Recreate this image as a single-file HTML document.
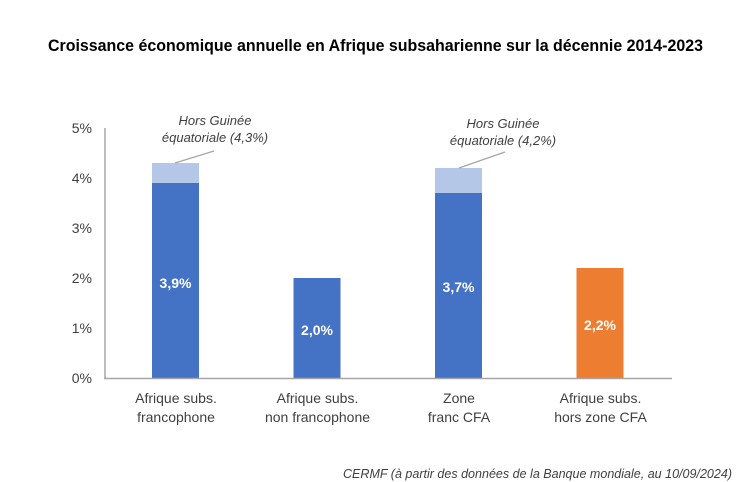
<!DOCTYPE html>
<html><head><meta charset="utf-8"><style>
html,body{margin:0;padding:0;background:#fff;}
svg{display:block;}
text{font-family:"Liberation Sans",sans-serif;}
</style></head><body>
<svg width="750" height="482" viewBox="0 0 750 482" xmlns="http://www.w3.org/2000/svg">
<rect width="750" height="482" fill="#fff"/>
<text x="375.5" y="51" text-anchor="middle" font-size="16.5" font-weight="bold" fill="#000" textLength="655" lengthAdjust="spacingAndGlyphs">Croissance économique annuelle en Afrique subsaharienne sur la décennie 2014-2023</text>
<g font-size="14" fill="#404040" text-anchor="end">
<text x="92" y="133">5%</text>
<text x="92" y="183">4%</text>
<text x="92" y="233">3%</text>
<text x="92" y="283">2%</text>
<text x="92" y="333">1%</text>
<text x="92" y="383">0%</text>
</g>
<rect x="152" y="163" width="47" height="20" fill="#B4C7E7"/>
<rect x="152" y="183" width="47" height="195" fill="#4472C4"/>
<rect x="293.5" y="278" width="47" height="100" fill="#4472C4"/>
<rect x="435" y="168" width="47" height="25" fill="#B4C7E7"/>
<rect x="435" y="193" width="47" height="185" fill="#4472C4"/>
<rect x="576.5" y="268" width="47" height="110" fill="#ED7D31"/>
<line x1="105" y1="128" x2="105" y2="378.5" stroke="#A6A6A6" stroke-width="1.5"/>
<line x1="104" y1="378.5" x2="672" y2="378.5" stroke="#A6A6A6" stroke-width="1.5"/>
<g font-size="14" font-weight="bold" fill="#fff" text-anchor="middle">
<text x="175.5" y="288">3,9%</text>
<text x="317" y="335">2,0%</text>
<text x="458.5" y="292">3,7%</text>
<text x="600" y="330">2,2%</text>
</g>
<g font-size="14" fill="#404040" text-anchor="middle">
<text x="176" y="403">Afrique subs.</text>
<text x="176" y="422">francophone</text>
<text x="317.5" y="403">Afrique subs.</text>
<text x="317.5" y="422">non francophone</text>
<text x="459" y="403">Zone</text>
<text x="459" y="422">franc CFA</text>
<text x="600.5" y="403">Afrique subs.</text>
<text x="600.5" y="422">hors zone CFA</text>
</g>
<g font-size="13" font-style="italic" fill="#404040" text-anchor="middle">
<text x="215" y="125">Hors Guinée</text>
<text x="215" y="142">équatoriale (4,3%)</text>
<text x="503" y="128">Hors Guinée</text>
<text x="503" y="145">équatoriale (4,2%)</text>
</g>
<line x1="175" y1="163" x2="214" y2="151" stroke="#A6A6A6" stroke-width="1.2"/>
<line x1="459" y1="168" x2="505" y2="152" stroke="#A6A6A6" stroke-width="1.2"/>
<text x="732" y="478" text-anchor="end" font-size="13" font-style="italic" fill="#404040" textLength="389" lengthAdjust="spacingAndGlyphs">CERMF (à partir des données de la Banque mondiale, au 10/09/2024)</text>
</svg>
</body></html>
